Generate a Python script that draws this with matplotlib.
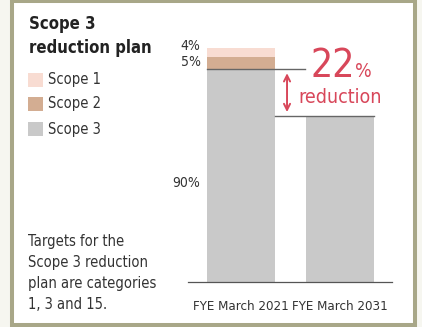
import matplotlib.pyplot as plt
from matplotlib.patches import Rectangle

# Scope 3 reduction plan, share of emissions (%)
years = ['FYE March 2021', 'FYE March 2031']
scope1 = [4, 0]
scope2 = [5, 0]
scope3 = [90, 70.2]
labels_2021 = ['4%', '5%', '90%']
reduction = 22

c_s1 = '#f8dcd2'
c_s2 = '#d3ad92'
c_s3 = '#c9c9c9'
red = '#d8475a'
txt = '#333333'

plt.rcParams['font.family'] = ['DejaVu Sans']
plt.rcParams['font.stretch'] = 'condensed'

W, H = 422, 327
fig = plt.figure(figsize=(W / 100, H / 100), dpi=100, facecolor='#f6f6f0')

def px(x, y):
    # pixel position from top-left -> figure fraction
    return x / W, 1 - y / H

# white panel with olive frame
fig.patches.append(Rectangle(px(12, 325), 403 / W, 324.5 / H, transform=fig.transFigure,
                             facecolor='white', edgecolor='#a8a788', linewidth=2.9, zorder=-5))

# bar axes: baseline at y=282px, 2.364 px per percent
scale = 2.364
ymax = 110
ax = fig.add_axes([188 / W, 45 / H, 204 / W, ymax * scale / H])
ax.set_xlim(-0.535, 1.525)
ax.set_ylim(0, ymax)
ax.patch.set_alpha(0)
for s in ['top', 'right', 'left']:
    ax.spines[s].set_visible(False)
ax.spines['bottom'].set_color('#555555')
ax.spines['bottom'].set_linewidth(0.9)
ax.set_yticks([])
ax.tick_params(axis='x', length=0, pad=13, labelsize=9.5, colors=txt)

x = [0, 1]
w = 0.687
ax.bar(x, scope3, w, color=c_s3, zorder=2)
ax.bar(x, scope2, w, bottom=scope3, color=c_s2, zorder=2)
ax.bar(x, scope1, w, bottom=[a + b for a, b in zip(scope3, scope2)], color=c_s1, zorder=2)
ax.set_xticks(x)
ax.set_xticklabels(years)

# value labels for 2021
ax.text(-0.41, 99.8, labels_2021[0], ha='right', va='center', fontsize=10, color=txt)
ax.text(-0.41, 93.0, labels_2021[1], ha='right', va='center', fontsize=10, color=txt)
ax.text(-0.41, 41.9, labels_2021[2], ha='right', va='center', fontsize=10, color=txt)

# reference lines and reduction arrow
ax.plot([-w / 2, 1 - w / 2 - 0.01], [scope3[0], scope3[0]], color='#666666', lw=1, zorder=3)
ax.plot([w / 2, 1 + w / 2], [scope3[1], scope3[1]], color='#666666', lw=1, zorder=3)
ax.annotate('', xy=(0.465, scope3[1] + 0.5), xytext=(0.465, scope3[0] - 0.5),
            arrowprops=dict(arrowstyle='<->', color=red, lw=1.4, mutation_scale=11))
ax.text(0.705, 86.7, str(reduction), ha='left', va='baseline', fontsize=28, color=red)
ax.text(1.15, 86.7, '%', ha='left', va='baseline', fontsize=14, color=red)
ax.text(1.0, 78.0, 'reduction', ha='center', va='center', fontsize=14, color=red)

# title, legend and note on the left
fig.text(*px(29, 36), 'Scope 3\nreduction plan', ha='left', va='center', fontsize=12,
         fontweight='bold', color='#222222', linespacing=1.4)
legend_items = [('Scope 1', c_s1, 80), ('Scope 2', c_s2, 104), ('Scope 3', c_s3, 129)]
for name, col, yy in legend_items:
    fig.patches.append(Rectangle(px(28, yy + 7), 15 / W, 14 / H, transform=fig.transFigure,
                                 facecolor=col, edgecolor='none'))
    fig.text(*px(48, yy), name, ha='left', va='center', fontsize=10.5, color=txt)
fig.text(*px(28, 273), 'Targets for the\nScope 3 reduction\nplan are categories\n1, 3 and 15.',
         ha='left', va='center', fontsize=10.5, color=txt, linespacing=1.5)

fig.savefig('out.png', dpi=100, facecolor=fig.get_facecolor())
